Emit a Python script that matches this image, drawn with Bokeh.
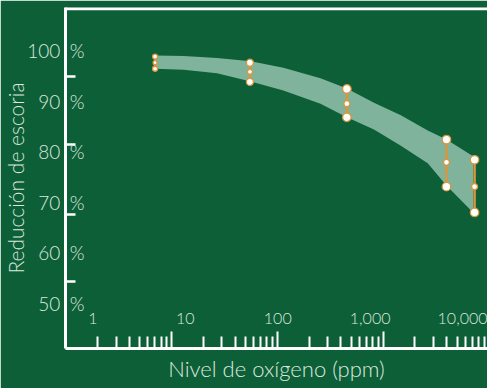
import re
from bokeh.plotting import figure
from bokeh.models import (LinearAxis, LogAxis, FixedTicker, Range1d, LogScale,
                          NumeralTickFormatter, PrintfTickFormatter, Span)
from bokeh.embed import file_html
from bokeh.resources import INLINE

# ---------------- data ----------------
# oxygen level (ppm) of each measured group
group_x = [4.7, 50, 560, 6700, 13500]
group_high = [98.8, 97.6, 92.4, 82.4, 78.4]   # % slag reduction, upper value
group_mid = [97.6, 95.8, 89.5, 77.9, 73.1]    # % slag reduction, middle value
group_low = [96.4, 93.8, 86.8, 73.1, 68.0]    # % slag reduction, lower value

# outline of the shaded band
band_x = [4.7, 9.6, 22, 51, 115, 290, 560, 1100, 2150, 4200, 6700, 13000]
band_upper = [99.0, 98.9, 98.5, 97.9, 96.6, 94.5, 92.5, 89.7, 87.2, 84.2, 82.4, 79.1]
band_lower = [96.4, 96.2, 95.5, 93.9, 92.1, 89.5, 86.8, 84.4, 81.2, 77.7, 73.3, 68.0]

# axis labels and tick marks
y_label_values = [50, 60, 70, 80, 90, 100]
y_tick_marks = [54.35, 67.59, 81.42, 94.86]
x_label_values = [1, 10, 100, 1000, 10000]
x_major_marks = [10, 100, 1000]
x_minor_marks = [2, 3, 4, 5, 6, 7, 8, 9, 20, 30, 40, 50, 60, 70, 80, 90,
                 200, 300, 400, 500, 600, 700, 800, 900,
                 2000, 3000, 4000, 5000, 6000, 7000, 8000, 9000]

# ---------------- styles ----------------
end_marker_size = [5, 7, 8.5, 8.5, 8.5]
mid_marker_size = [4, 5, 6, 6, 6]
TXT = "#dce8df"
FONT = "'Lato Light', Lato"
ORANGE = "#d8963f"
BAND = "#80b39b"
BG = "#0d5f38"
Y_START, Y_END = 41.11, 108.50

p = figure(width=487, height=388, x_axis_type="log",
           x_range=Range1d(0.5043, 18630), y_range=Range1d(Y_START, Y_END),
           output_backend="svg", toolbar_location=None,
           x_axis_location=None, y_axis_location=None,
           min_border_left=50, min_border_right=0,
           min_border_top=7, min_border_bottom=40)
p.background_fill_color = BG
p.border_fill_color = BG
p.outline_line_color = None
for g in p.grid:
    g.visible = False

p.extra_x_ranges = {"ticks": Range1d(1, 9680)}
p.extra_x_scales = {"ticks": LogScale()}

# band
p.varea(x=band_x, y1=band_lower, y2=band_upper, fill_color=BAND, fill_alpha=1)

# error bars
p.segment(x0=group_x, y0=group_low, x1=group_x, y1=group_high,
          line_color=ORANGE, line_width=2.5)
p.scatter(x=group_x, y=group_high, size=end_marker_size, fill_color="white",
          line_color=ORANGE, line_width=1.3)
p.scatter(x=group_x, y=group_low, size=end_marker_size, fill_color="white",
          line_color=ORANGE, line_width=1.3)
p.scatter(x=group_x, y=group_mid, size=mid_marker_size, fill_color="white",
          line_color=ORANGE, line_width=1.3)

# top line of the frame
p.add_layout(Span(location=Y_END - 0.25, dimension="width",
                  line_color="white", line_width=3))

# y axis
yax = LinearAxis(ticker=FixedTicker(ticks=y_label_values, minor_ticks=y_tick_marks),
                 formatter=PrintfTickFormatter(format="%d\u2002%%"),
                 axis_line_color="white", axis_line_width=3,
                 major_tick_in=0, major_tick_out=0, major_tick_line_color=None,
                 minor_tick_in=10, minor_tick_out=0, minor_tick_line_color="white",
                 minor_tick_line_width=2.5,
                 major_label_standoff=-19,
                 major_label_text_font=FONT, major_label_text_font_size="19px",
                 major_label_text_color=TXT,
                 axis_label="Reducción de escoria", axis_label_text_font=FONT,
                 axis_label_text_font_size="21px", axis_label_text_font_style="normal",
                 axis_label_text_color=TXT, axis_label_standoff=-4)
p.add_layout(yax, "left")

# x tick marks axis (nearest frame)
xt = LogAxis(x_range_name="ticks",
             ticker=FixedTicker(ticks=x_major_marks, minor_ticks=x_minor_marks),
             axis_line_color="white", axis_line_width=3,
             major_tick_in=17, major_tick_out=0, major_tick_line_color="white",
             major_tick_line_width=2,
             minor_tick_in=12, minor_tick_out=0, minor_tick_line_color="white",
             minor_tick_line_width=2,
             major_label_text_font_size="1px", major_label_text_alpha=0,
             major_label_standoff=0)
p.add_layout(xt, "below")

# x labels axis
xl = LogAxis(ticker=FixedTicker(ticks=x_label_values),
             formatter=NumeralTickFormatter(format="0,0"),
             axis_line_color=None, major_tick_line_color=None,
             minor_tick_line_color=None, major_tick_in=0, major_tick_out=0,
             minor_tick_in=0, minor_tick_out=0,
             major_label_standoff=-36,
             major_label_text_font=FONT, major_label_text_font_size="16px",
             major_label_text_color=TXT,
             axis_label="Nivel de oxígeno (ppm)", axis_label_text_font=FONT,
             axis_label_text_font_size="22px", axis_label_text_font_style="normal",
             axis_label_text_color=TXT, axis_label_standoff=28)
p.add_layout(xl, "below")

html = file_html(p, INLINE, title="chart")
html = re.sub(r"<body([^>]*)>",
              r'<body\1 style="margin:8px; overflow:hidden; background-color:#0d5f38;">',
              html, count=1)
open("out.html", "w").write(html)
